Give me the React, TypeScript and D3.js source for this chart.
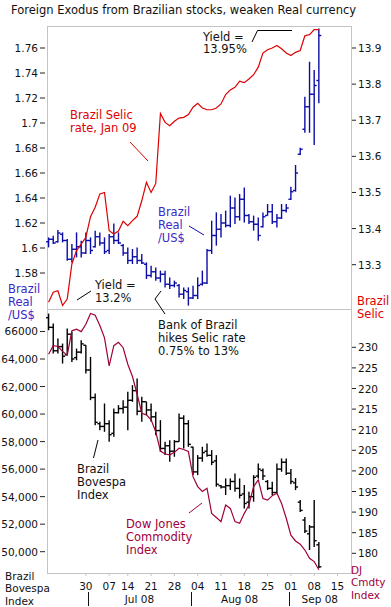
import { useRef, useEffect } from "react";
import * as d3 from "d3";

// Trading days from Jun 18 to Sep 9 2008 (index 0..58), Jul 9 skipped (Sao Paulo holiday)
const realHigh = [1.6085, 1.6099, 1.6144, 1.6125, 1.6072, 1.6032, 1.6125, 1.6059, 1.6125, 1.6085, 1.6139, 1.6125, 1.6085, 1.6112, 1.6197, 1.6125, 1.6032, 1.6005, 1.5992, 1.6005, 1.5952, 1.5885, 1.5859, 1.5845, 1.5819, 1.5819, 1.5765, 1.5739, 1.5712, 1.5685, 1.5685, 1.5699, 1.5765, 1.5819, 1.5992, 1.6219, 1.6285, 1.6272, 1.6299, 1.6419, 1.6405, 1.6432, 1.6485, 1.6272, 1.6259, 1.6245, 1.6285, 1.6352, 1.6352, 1.6272, 1.6352, 1.6352, 1.649, 1.6664, 1.6803, 1.721, 1.749, 1.7424, 1.7757];
const realLow = [1.6005, 1.6032, 1.6045, 1.6045, 1.5899, 1.5885, 1.5925, 1.5925, 1.5952, 1.5952, 1.6005, 1.6019, 1.5952, 1.5952, 1.6032, 1.6032, 1.5939, 1.5872, 1.5872, 1.5872, 1.5872, 1.5752, 1.5765, 1.5739, 1.5725, 1.5685, 1.5672, 1.5685, 1.5605, 1.5592, 1.5539, 1.5592, 1.5592, 1.5699, 1.5712, 1.5952, 1.6019, 1.6085, 1.6165, 1.6165, 1.6192, 1.6219, 1.6205, 1.6192, 1.6139, 1.6059, 1.6165, 1.6259, 1.6192, 1.6165, 1.6232, 1.6285, 1.6384, 1.6451, 1.6744, 1.6922, 1.6922, 1.6824, 1.7158];
const realOpen = [1.605, 1.607, 1.605, 1.611, 1.606, 1.591, 1.599, 1.601, 1.596, 1.606, 1.601, 1.609, 1.604, 1.598, 1.609, 1.606, 1.602, 1.596, 1.59, 1.593, 1.59, 1.587, 1.578, 1.581, 1.576, 1.579, 1.571, 1.57, 1.57, 1.563, 1.565, 1.56, 1.562, 1.571, 1.572, 1.598, 1.61, 1.615, 1.62, 1.618, 1.632, 1.625, 1.639, 1.626, 1.621, 1.619, 1.617, 1.626, 1.629, 1.621, 1.624, 1.63, 1.639, 1.646, 1.675, 1.695, 1.713, 1.723, 1.734];
const realClose = [1.607, 1.604, 1.612, 1.606, 1.591, 1.599, 1.601, 1.596, 1.606, 1.598, 1.609, 1.604, 1.597, 1.609, 1.606, 1.604, 1.596, 1.59, 1.593, 1.59, 1.588, 1.578, 1.581, 1.576, 1.579, 1.571, 1.57, 1.572, 1.563, 1.566, 1.56, 1.562, 1.57, 1.572, 1.598, 1.61, 1.615, 1.62, 1.618, 1.632, 1.625, 1.639, 1.626, 1.621, 1.619, 1.61, 1.625, 1.629, 1.621, 1.624, 1.63, 1.632, 1.645, 1.66, 1.679, 1.713, 1.723, 1.73, 1.77];
const selicRate = [13.196, 13.224, 13.228, 13.187, 13.205, 13.302, 13.339, 13.357, 13.376, 13.433, 13.459, 13.496, 13.5, 13.394, 13.385, 13.393, 13.42, 13.408, 13.422, 13.434, 13.477, 13.528, 13.5, 13.525, 13.719, 13.694, 13.685, 13.697, 13.706, 13.708, 13.716, 13.736, 13.747, 13.734, 13.729, 13.729, 13.734, 13.745, 13.771, 13.784, 13.791, 13.808, 13.804, 13.814, 13.826, 13.847, 13.886, 13.895, 13.9, 13.907, 13.898, 13.886, 13.879, 13.888, 13.893, 13.934, 13.937, 13.951, 13.951];

const bovHigh = [67298, 66573, 65484, 65121, 66210, 65968, 64758, 65363, 65000, 64154, 61493, 59437, 60767, 59557, 60404, 60646, 61009, 61614, 62097, 62581, 61251, 60888, 60767, 60162, 59557, 57985, 58106, 58106, 60041, 59920, 59557, 57622, 57018, 57622, 57864, 57380, 57018, 54840, 55324, 55324, 55687, 55324, 54840, 54357, 55566, 56413, 56050, 55203, 55082, 56413, 56776, 56776, 56000, 55350, 53752, 52518, 51938, 53752, 50704];
const bovLow = [66089, 64396, 64396, 63670, 64275, 63791, 63912, 64396, 62944, 61009, 59195, 58832, 58711, 57985, 58348, 60041, 60041, 58832, 60888, 59920, 59437, 59920, 59437, 58469, 57259, 57018, 56534, 56897, 57985, 57501, 57622, 55566, 55566, 56534, 56897, 56292, 54719, 54598, 54115, 54478, 54357, 53873, 53147, 53147, 53631, 55324, 55203, 54478, 54115, 54236, 55808, 55566, 54900, 54477, 52881, 51357, 50123, 50341, 48817];
const bovOpen = [67000, 66300, 64600, 64900, 64300, 65800, 64100, 64500, 65000, 63200, 61200, 59300, 59100, 59300, 58600, 60100, 60400, 60500, 61000, 61700, 60200, 60900, 60300, 59800, 58800, 57500, 57700, 57300, 58000, 59700, 59300, 57600, 55800, 56800, 57300, 57000, 56600, 54800, 54700, 54800, 55100, 54600, 54200, 53600, 54000, 55500, 55900, 55100, 54600, 54300, 56000, 56500, 55700, 55000, 53600, 52300, 51300, 51800, 50500];
const bovClose = [66300, 64600, 64900, 64200, 65800, 64000, 64500, 65100, 63200, 61200, 59400, 59100, 59300, 58500, 60100, 60400, 60500, 61000, 61700, 60200, 60900, 60300, 59800, 58800, 57500, 57700, 57300, 58000, 59700, 59300, 57800, 55800, 56800, 57200, 57000, 56500, 54900, 54700, 54800, 55100, 54600, 54100, 53500, 54000, 55400, 56000, 55500, 54600, 54300, 56000, 56500, 55700, 55100, 54700, 53000, 51500, 51800, 50800, 48900];
const djCommodity = [228.3, 230.4, 230.2, 229.0, 228.1, 234.0, 234.4, 233.8, 235.6, 238.2, 237.8, 235.3, 232.3, 225.5, 230.4, 231.2, 229.9, 225.9, 222.9, 218.6, 214.0, 213.6, 212.4, 209.5, 204.8, 204.1, 203.9, 204.5, 205.5, 205.2, 204.7, 198.6, 196.2, 195.0, 195.8, 189.7, 188.7, 187.7, 191.7, 190.9, 187.7, 187.3, 189.7, 191.7, 196.2, 197.8, 193.3, 192.9, 194.0, 194.6, 192.1, 188.5, 184.4, 183.0, 182.2, 180.8, 178.8, 178.0, 176.0];

// axis ticks (trading-day index of each Monday)
const weekTicks = [8, 13, 17, 22, 27, 32, 37, 42, 47, 52, 57, 62];
const weekLabels = ["30", "07", "14", "21", "28", "04", "11", "18", "25", "01", "08", "15"];
const monthBreaks = [8.5, 30.5, 51.5];
const monthLabels = ["Jul 08", "Aug 08", "Sep 08"];
const realTicks = [1.58, 1.6, 1.62, 1.64, 1.66, 1.68, 1.7, 1.72, 1.74, 1.76];
const selicTicks = [13.3, 13.4, 13.5, 13.6, 13.7, 13.8, 13.9];
const bovTicks = [50000, 52000, 54000, 56000, 58000, 60000, 62000, 64000, 66000];
const bovTickLabels = ["50,000", "52,000", "54,000", "56,000", "58,000", "60,000", "62,000", "64,000", "66000"];
const djTicks = [180, 185, 190, 195, 200, 205, 210, 215, 220, 225, 230];

const FONT = "DejaVu Sans, Verdana, sans-serif";
const RED = "#dd0000";
const NAVY = "#0c0ca8";
const BLUE_TXT = "#3c28c8";
const MAROON = "#a0003c";
const GRID = "#c4c4c4";

export default function App() {
  const svgRef = useRef<SVGSVGElement>(null);

  useEffect(() => {
    if (!svgRef.current) return;
    const svg = d3.select(svgRef.current);
    svg.selectAll("*").remove();

    const left = 47, right = 351, top = 26, mid = 309.5, bottom = 573;

    const x = d3.scaleLinear().domain([-0.34, 64.9]).range([left, right]);
    const yReal = d3.scaleLinear().domain([1.58, 1.76]).range([273, 48]);
    const ySelic = d3.scaleLinear().domain([13.3, 13.9]).range([264.7, 48]);
    const yBov = d3.scaleLinear().domain([50000, 64000]).range([551.7, 359]);
    const yDj = d3.scaleLinear().domain([180, 230]).range([553.3, 347.3]);

    svg.append("rect").attr("width", 391).attr("height", 607).attr("fill", "#fff");

    // Title
    svg.append("text")
      .attr("x", 11).attr("y", 14)
      .attr("font-family", FONT).attr("font-size", "11.5px").attr("fill", "#111")
      .text("Foreign Exodus from Brazilian stocks, weaken Real currency");

    // frame
    const frame = svg.append("g").attr("stroke", GRID).attr("stroke-width", 1).attr("fill", "none")
      .attr("shape-rendering", "crispEdges");
    frame.append("rect").attr("x", left).attr("y", top).attr("width", right - left).attr("height", bottom - top);
    frame.append("line").attr("x1", left).attr("x2", right).attr("y1", mid).attr("y2", mid);

    const tickText = (g: d3.Selection<SVGGElement, unknown, null, undefined>) =>
      g.attr("font-family", FONT).attr("font-size", "10.5px").attr("fill", "#111");

    // left axes
    const la = svg.append("g").call(tickText);
    realTicks.forEach((t) => {
      const y = yReal(t);
      la.append("line").attr("x1", 40).attr("x2", 45).attr("y1", y).attr("y2", y).attr("stroke", "#222");
      la.append("text").attr("x", 38).attr("y", y + 4).attr("text-anchor", "end").text(String(t));
    });
    bovTicks.forEach((t, i) => {
      const y = yBov(t);
      la.append("line").attr("x1", 40).attr("x2", 45).attr("y1", y).attr("y2", y).attr("stroke", "#222");
      la.append("text").attr("x", 38).attr("y", y + 4).attr("text-anchor", "end").text(bovTickLabels[i]);
    });

    // right axes
    const ra = svg.append("g").call(tickText);
    selicTicks.forEach((t) => {
      const y = ySelic(t);
      ra.append("line").attr("x1", 352).attr("x2", 356).attr("y1", y).attr("y2", y).attr("stroke", "#222");
      ra.append("text").attr("x", 358).attr("y", y + 4).text(t.toFixed(1));
    });
    djTicks.forEach((t) => {
      const y = yDj(t);
      ra.append("line").attr("x1", 352).attr("x2", 356).attr("y1", y).attr("y2", y).attr("stroke", "#222");
      ra.append("text").attr("x", 358).attr("y", y + 4).text(String(t));
    });

    // x axis
    const xa = svg.append("g").call(tickText);
    weekTicks.forEach((t, i) => {
      const xx = x(t);
      xa.append("line").attr("x1", xx).attr("x2", xx).attr("y1", bottom).attr("y2", bottom + 3).attr("stroke", GRID);
      xa.append("text").attr("x", xx).attr("y", 589.5).attr("text-anchor", "middle").text(weekLabels[i]);
    });
    const breaks = [...monthBreaks, x.invert(right)];
    monthBreaks.forEach((b) => {
      const xx = Math.round(x(b)) + 0.5;
      xa.append("line").attr("x1", xx).attr("x2", xx).attr("y1", 592).attr("y2", 606).attr("stroke", "#111");
    });
    monthLabels.forEach((m, i) => {
      const cx = (x(breaks[i]) + x(breaks[i + 1])) / 2;
      xa.append("text").attr("x", cx).attr("y", 603).attr("text-anchor", "middle").text(m);
    });

    // OHLC bars
    const ohlc = (
      hi: number[], lo: number[], op: number[], cl: number[],
      y: d3.ScaleLinear<number, number>, color: string
    ) => {
      const g = svg.append("g").attr("stroke", color).attr("stroke-width", 1.4).attr("fill", "none");
      hi.forEach((h, i) => {
        const xx = x(i);
        g.append("line").attr("x1", xx).attr("x2", xx).attr("y1", y(h)).attr("y2", y(lo[i]));
        g.append("line").attr("x1", xx - 2.5).attr("x2", xx).attr("y1", y(op[i])).attr("y2", y(op[i]));
        g.append("line").attr("x1", xx).attr("x2", xx + 2.5).attr("y1", y(cl[i])).attr("y2", y(cl[i]));
      });
    };

    const line = (vals: number[], y: d3.ScaleLinear<number, number>, color: string) => {
      const gen = d3.line<number>().x((_, i) => x(i)).y((d) => y(d));
      svg.append("path").attr("d", gen(vals)).attr("fill", "none").attr("stroke", color).attr("stroke-width", 1.2);
    };

    ohlc(realHigh, realLow, realOpen, realClose, yReal, NAVY);
    line(selicRate, ySelic, RED);
    ohlc(bovHigh, bovLow, bovOpen, bovClose, yBov, "#000");
    line(djCommodity, yDj, MAROON);

    // annotations
    const note = (lines: string[], x0: number, y0: number, color: string, step = 12.8, size = 11.5) => {
      const t = svg.append("text").attr("font-family", FONT).attr("font-size", `${size}px`).attr("fill", color);
      lines.forEach((s, i) => t.append("tspan").attr("x", x0).attr("y", y0 + i * step).text(s));
    };
    const leader = (pts: [number, number][], color: string) => {
      svg.append("path").attr("d", d3.line()(pts)).attr("fill", "none").attr("stroke", color).attr("stroke-width", 1);
    };

    note(["Yield =", "13.95%"], 203, 40.5, "#111");
    leader([[252, 42], [257.5, 30.5], [292, 30.5]], "#000");

    note(["Brazil Selic", "rate, Jan 09"], 70, 119, RED);
    leader([[130, 142], [148, 161]], RED);

    note(["Brazil", "Real", "/US$"], 158, 216, BLUE_TXT);
    leader([[189, 226], [204, 235]], NAVY);

    note(["Yield =", "13.2%"], 95, 289, "#111");
    leader([[77, 300], [91, 291]], "#000");

    note(["Bank of Brazil", "hikes Selic rate", "0.75% to 13%"], 158, 329, "#111");
    leader([[161, 291], [155, 299], [165, 314]], "#000");

    note(["Brazil", "Bovespa", "Index"], 77, 473, "#111");
    leader([[93.5, 458], [98, 440]], "#000");

    note(["Dow Jones", "Commodity", "Index"], 126, 528, MAROON);
    leader([[189, 513], [202, 503]], MAROON);

    // axis titles
    note(["Brazil", "Real", "/US$"], 8, 293, BLUE_TXT);
    note(["Brazil", "Selic"], 357, 305, RED);
    note(["Brazil", "Bovespa", "Index"], 5, 580, "#111", 12.3, 10.5);
    note(["DJ", "Cmdty", "Index"], 351, 574, MAROON, 12.3, 10.5);
  }, []);

  return (
    <svg
      ref={svgRef}
      width={391}
      height={607}
      style={{ position: "absolute", left: 0, top: 0 }}
      role="img"
      aria-label="Brazil Real, Selic rate, Bovespa and DJ commodity index, Jun-Sep 2008"
    />
  );
}
